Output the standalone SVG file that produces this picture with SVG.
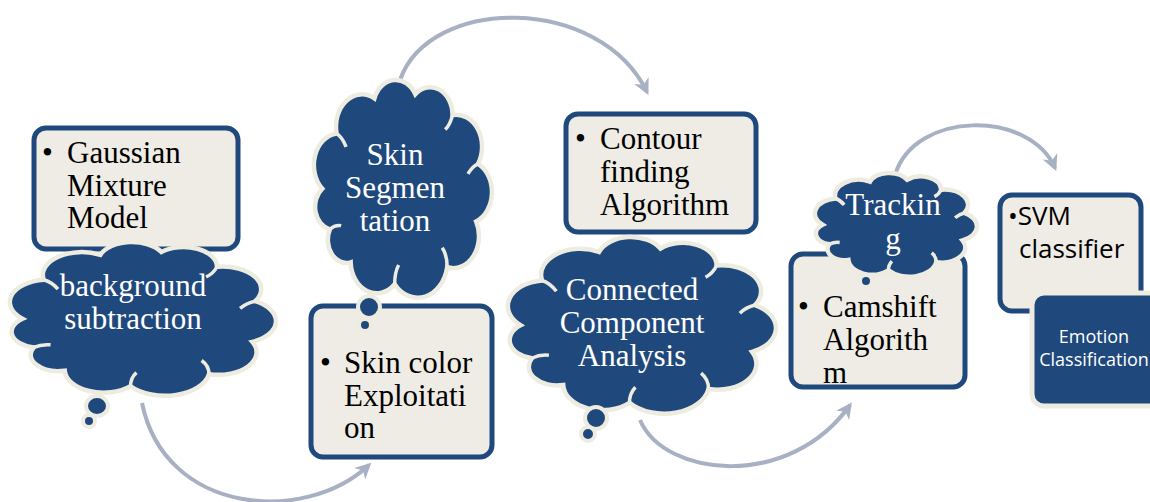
<svg xmlns="http://www.w3.org/2000/svg" xmlns:xlink="http://www.w3.org/1999/xlink" width="1150" height="502" viewBox="0 0 1150 502">
  <style>
    .box { fill: #eeece4; stroke: #1f497d; stroke-width: 5; }
    .dark { fill: #1f497d; stroke: #eeece1; stroke-width: 5; }
    .conn { fill: none; stroke: #a8b0c4; stroke-width: 4; marker-end: url(#arrow); }
    .serif { font-family: "Liberation Serif", "Times New Roman", serif; font-size: 31px; }
    .ink { fill: #000; }
    .white { fill: #ffffff; }
    .sans { font-family: "Open Sans", "Liberation Sans", sans-serif; }
    .bubble { fill: #1f497d; stroke: #eeece1; stroke-width: 4; }
  </style>
  <defs>
    <marker id="arrow" viewBox="0 0 10 10" refX="8" refY="5" markerWidth="4" markerHeight="4" orient="auto" markerUnits="strokeWidth">
      <path d="M0,0 L10,5 L0,10 L3,5 z" fill="#a8b0c4"/>
    </marker>
    <!-- unit cloud: rounded lobes on an inner ellipse; stroke width kept constant when scaled -->
    <path id="cloudShape" vector-effect="non-scaling-stroke" fill="#1f497d" stroke="#eeece1" stroke-width="4.5"
      d="M 10,50 A 12.9,12.9 0 0 1 17.2,27.6 A 13.1,13.1 0 0 1 36.3,13.3 A 11.4,11.4 0 0 1 56.9,11.6 A 11.3,11.3 0 0 1 75.7,20.1 A 13,13 0 0 1 88.6,39.9 A 12.9,12.9 0 0 1 87.6,63.3 A 13,13 0 0 1 73,81.9 A 15.1,15.1 0 0 1 46.5,88.8 A 13.1,13.1 0 0 1 24.3,79.9 A 9.4,9.4 0 0 1 13.8,66.5 A 9.3,9.3 0 0 1 10,50 Z"/>
    <path id="cloudLines" vector-effect="non-scaling-stroke" fill="none" stroke="#eeece1" stroke-width="3.5"
      d="M 17.2,27.6 Q 20,29 22,33 M 75.7,20.1 Q 74.5,24 72,26 M 88.6,39.9 Q 85.5,41 83.5,44 M 73,81.9 Q 73,77 70.5,74 M 46.5,88.8 Q 46.5,84 48.5,81 M 13.8,66.5 Q 16.5,64.5 19.5,65"/>
  </defs>

  <!-- connectors -->
  <g id="connectors">
    <path class="conn" d="M142,403 C165,515 305,525 369,465"/>
    <path class="conn" d="M400,80 C430,-5 600,-5 647,92"/>
    <path class="conn" d="M640,420 C665,478 790,490 850,405"/>
    <path class="conn" d="M895,175 C915,110 1030,110 1055,168"/>
  </g>

  <!-- step 1 -->
  <g id="gmm-box">
    <rect class="box" x="34" y="128" width="204" height="121" rx="12"/>
    <text class="serif ink" x="42" y="163">•</text>
    <text class="serif ink" x="67" y="163">Gaussian</text>
    <text class="serif ink" x="67" y="196">Mixture</text>
    <text class="serif ink" x="67" y="228">Model</text>
  </g>
  <g id="background-subtraction">
    <use xlink:href="#cloudShape" transform="translate(-7.2,231.8) scale(2.962,1.739)"/>
    <use xlink:href="#cloudLines" transform="translate(-7.2,231.8) scale(2.962,1.739)"/>
    <ellipse class="bubble" cx="97" cy="406" rx="11" ry="10"/>
    <ellipse class="bubble" cx="89" cy="421" rx="6" ry="6"/>
    <text class="serif white" x="133" y="296" text-anchor="middle">background</text>
    <text class="serif white" x="133" y="329" text-anchor="middle">subtraction</text>
  </g>

  <!-- step 2 -->
  <g id="skin-color-box">
    <rect class="box" x="311" y="306" width="181" height="151" rx="12"/>
    <text class="serif ink" x="320" y="373">•</text>
    <text class="serif ink" x="344" y="373">Skin color</text>
    <text class="serif ink" x="344" y="406">Exploitati</text>
    <text class="serif ink" x="344" y="438">on</text>
  </g>
  <g id="skin-segmentation">
    <use xlink:href="#cloudShape" transform="translate(302.5,65.6) scale(1.982,2.462)"/>
    <use xlink:href="#cloudLines" transform="translate(302.5,65.6) scale(1.982,2.462)"/>
    <ellipse class="bubble" cx="369" cy="307" rx="11" ry="11"/>
    <ellipse class="bubble" cx="365" cy="325" rx="6" ry="6"/>
    <text class="serif white" x="395" y="165" text-anchor="middle">Skin</text>
    <text class="serif white" x="395" y="198" text-anchor="middle">Segmen</text>
    <text class="serif white" x="395" y="231" text-anchor="middle">tation</text>
  </g>

  <!-- step 3 -->
  <g id="contour-box">
    <rect class="box" x="566" y="114" width="190" height="118" rx="12"/>
    <text class="serif ink" x="575" y="149">•</text>
    <text class="serif ink" x="600" y="149">Contour</text>
    <text class="serif ink" x="600" y="182">finding</text>
    <text class="serif ink" x="600" y="215">Algorithm</text>
  </g>
  <g id="connected-components">
    <use xlink:href="#cloudShape" transform="translate(490.7,225.3) scale(2.984,1.999)"/>
    <use xlink:href="#cloudLines" transform="translate(490.7,225.3) scale(2.984,1.999)"/>
    <ellipse class="bubble" cx="596" cy="418" rx="11" ry="11"/>
    <ellipse class="bubble" cx="588" cy="434" rx="7" ry="7"/>
    <text class="serif white" x="632" y="300" text-anchor="middle">Connected</text>
    <text class="serif white" x="632" y="333" text-anchor="middle">Component</text>
    <text class="serif white" x="632" y="366" text-anchor="middle">Analysis</text>
  </g>

  <!-- step 4 -->
  <g id="camshift-box">
    <rect class="box" x="791" y="254" width="174" height="133" rx="12"/>
    <text class="serif ink" x="798" y="317">•</text>
    <text class="serif ink" x="823" y="317">Camshift</text>
    <text class="serif ink" x="823" y="350">Algorith</text>
    <text class="serif ink" x="823" y="383">m</text>
  </g>
  <g id="tracking">
    <use xlink:href="#cloudShape" transform="translate(804.5,166.1) scale(1.804,1.174)"/>
    <use xlink:href="#cloudLines" transform="translate(804.5,166.1) scale(1.804,1.174)"/>
    <ellipse class="bubble" cx="866" cy="281" rx="6" ry="6"/>
    <text class="serif white" x="893" y="215" text-anchor="middle">Trackin</text>
    <text class="serif white" x="893" y="249" text-anchor="middle">g</text>
  </g>

  <!-- step 5 -->
  <g id="svm-box">
    <rect class="box" x="1000" y="195" width="141" height="116" rx="12"/>
    <text class="sans ink" x="1008" y="225" font-size="26">•SVM</text>
    <text class="sans ink" x="1019" y="258" font-size="26">classifier</text>
  </g>
  <g id="emotion-classification">
    <rect class="dark" x="1032" y="293" width="130" height="113" rx="12"/>
    <text class="sans white" x="1094" y="343" font-size="18" text-anchor="middle">Emotion</text>
    <text class="sans white" x="1094" y="366" font-size="18" text-anchor="middle">Classification</text>
  </g>
</svg>
